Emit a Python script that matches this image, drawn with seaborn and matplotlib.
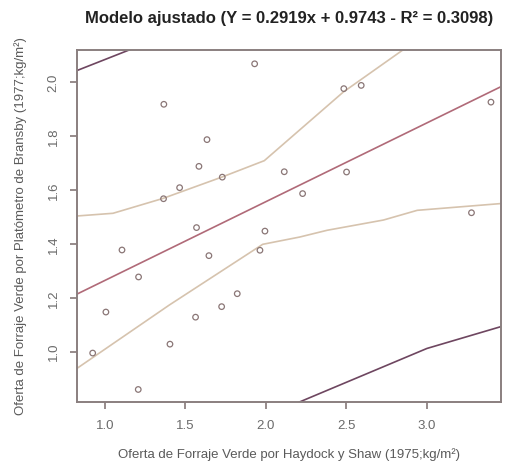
import matplotlib
matplotlib.use("Agg")
import matplotlib.pyplot as plt
import numpy as np
import pandas as pd
import seaborn as sns

haydock = [1.930, 1.366, 1.634, 1.584, 1.729, 2.114, 1.464, 1.364, 1.569, 1.994,
           2.484, 2.592, 3.398, 2.501, 2.228, 3.277, 1.106, 1.646, 1.209, 1.963,
           1.822, 1.725, 1.563, 1.006, 1.404, 0.924, 1.207]
bransby = [2.069, 1.919, 1.788, 1.689, 1.649, 1.669, 1.610, 1.569, 1.462, 1.449,
           1.977, 1.989, 1.927, 1.668, 1.588, 1.517, 1.379, 1.358, 1.279, 1.378,
           1.217, 1.169, 1.130, 1.149, 1.030, 0.997, 0.862]

# fitted model
slope = 0.2919
intercept = 0.9743
r2 = 0.3098

# bands
conf_up_x = [0.826, 1.05, 1.36, 1.73, 1.99, 2.48, 2.85, 3.50]
conf_up_y = [1.505, 1.515, 1.57, 1.65, 1.71, 1.964, 2.12, 2.45]
conf_lo_x = [0.826, 1.40, 1.98, 2.21, 2.38, 2.73, 2.94, 3.50]
conf_lo_y = [0.940, 1.175, 1.40, 1.427, 1.452, 1.49, 1.526, 1.553]
pred_up_x = [0.826, 1.145, 1.60]
pred_up_y = [2.044, 2.119, 2.22]
pred_lo_x = [2.00, 2.21, 3.00, 3.50]
pred_lo_y = [0.76, 0.816, 1.014, 1.102]

sns.set_theme(style="white")
plt.rcParams['font.family'] = ['Liberation Sans', 'DejaVu Sans']

fig = plt.figure(figsize=(5.06, 4.66), dpi=100)
ax = fig.add_axes([0.152, 0.137, 0.838, 0.755])

pts = pd.DataFrame({'x': haydock, 'y': bransby})
xfit = np.array([0.8, 3.5])
fit = pd.DataFrame({'x': xfit, 'y': slope * xfit + intercept})

band_col = '#d6c3ae'
pred_col = '#6e4660'
sns.lineplot(x=conf_up_x, y=conf_up_y, ax=ax, color=band_col, lw=1.2, sort=False)
sns.lineplot(x=conf_lo_x, y=conf_lo_y, ax=ax, color=band_col, lw=1.2, sort=False)
sns.lineplot(x=pred_up_x, y=pred_up_y, ax=ax, color=pred_col, lw=1.2, sort=False)
sns.lineplot(x=pred_lo_x, y=pred_lo_y, ax=ax, color=pred_col, lw=1.2, sort=False)
sns.lineplot(data=fit, x='x', y='y', ax=ax, color='#b06a78', lw=1.2, sort=False)
sns.scatterplot(data=pts, x='x', y='y', ax=ax, marker='o', s=16,
                facecolor='none', edgecolor='#8a7676', linewidth=0.9, zorder=5)

ax.set_xlim(0.826, 3.46)
ax.set_ylim(0.815, 2.119)
ax.set_xticks([1.0, 1.5, 2.0, 2.5, 3.0])
ax.set_yticks([1.0, 1.2, 1.4, 1.6, 1.8, 2.0])
ax.set_xticklabels(['1.0', '1.5', '2.0', '2.5', '3.0'])
ax.set_yticklabels(['1.0', '1.2', '1.4', '1.6', '1.8', '2.0'], rotation=90, va='center')
ax.tick_params(axis='both', which='both', bottom=True, left=True, length=5, width=1.2,
               color='#857878', labelcolor='#6a6a6a', labelsize=9.5, direction='out', pad=7.5)
for sp in ax.spines.values():
    sp.set_color('#8a7f7f')
    sp.set_linewidth(1.4)

ax.set_xlabel('Oferta de Forraje Verde por Haydock y Shaw (1975;kg/m²)',
              fontsize=9.5, color='#5a5a5a', labelpad=12)
ax.set_ylabel('Oferta de Forraje Verde por Platómetro de Bransby (1977;kg/m²)',
              fontsize=9.5, color='#5a5a5a', labelpad=15)
ax.set_title(f'Modelo ajustado (Y = {slope}x + {intercept} - R² = {r2})',
             fontsize=12, fontweight='bold', color='#222222', pad=20)

fig.savefig('out.png', dpi=100)
